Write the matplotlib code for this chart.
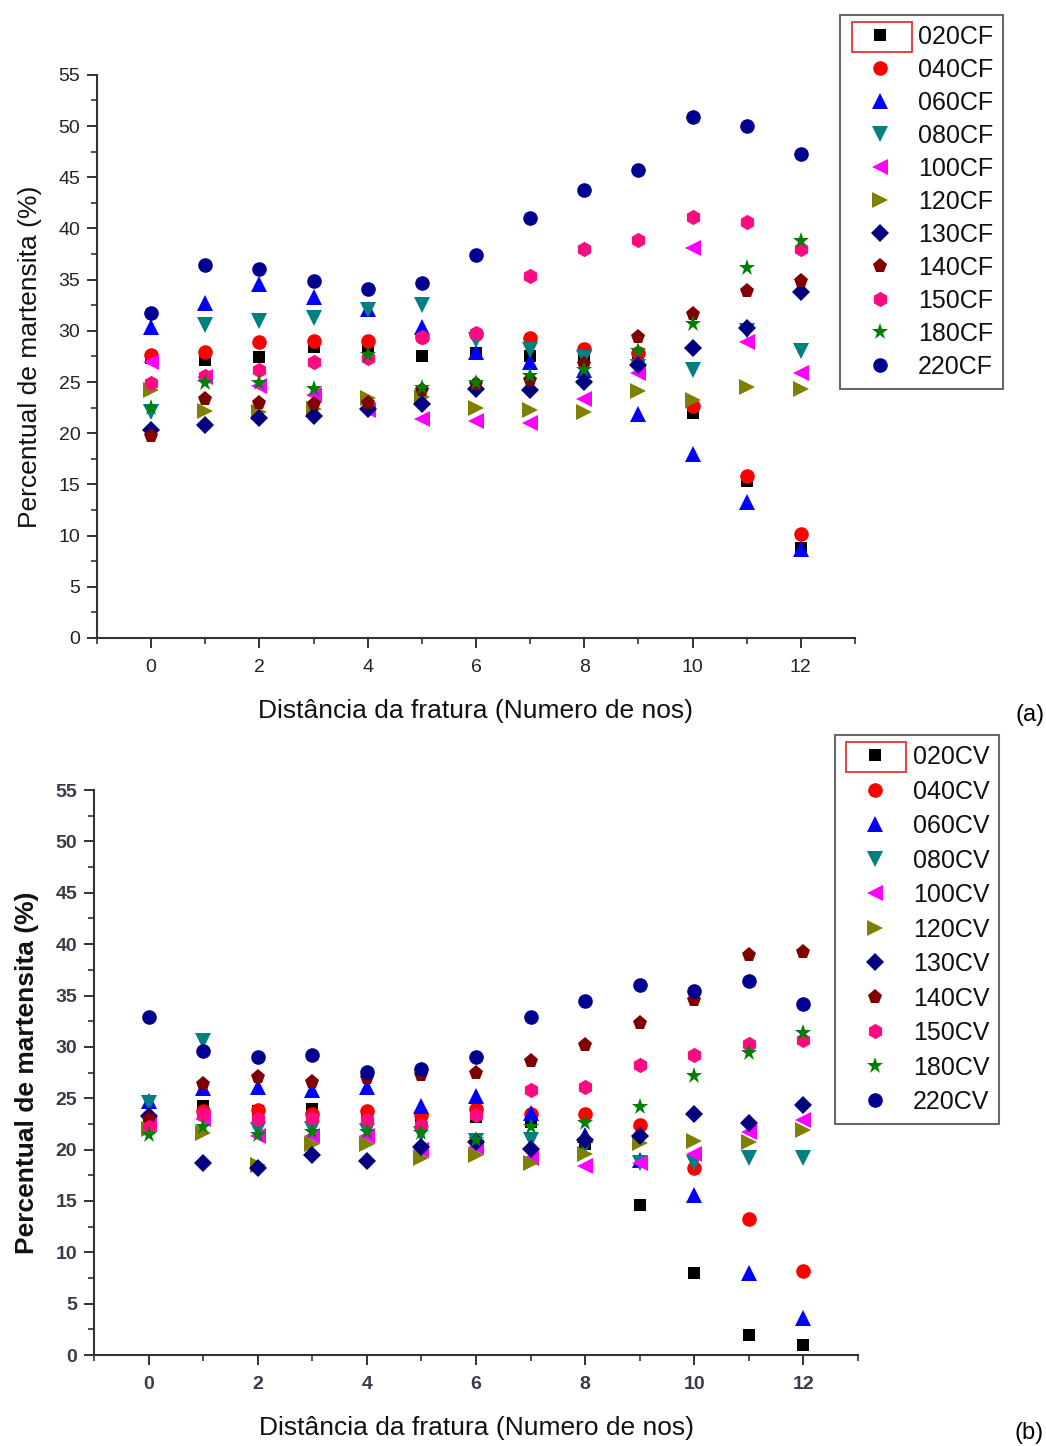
import matplotlib
matplotlib.use("Agg")
import matplotlib.pyplot as plt
from matplotlib.ticker import MultipleLocator
from matplotlib.patches import Rectangle

plt.rcParams["font.family"] = ["Liberation Sans", "DejaVu Sans"]

NODES = list(range(13))
SAMPLES = ["020", "040", "060", "080", "100", "120", "130", "140", "150", "180", "220"]

# (a) CF samples, martensite % per node distance from fracture
cf_020 = [27.3, 27.2, 27.4, 28.4, 28.5, 27.5, 27.8, 27.5, 27.3, 27.5, 22.0, 15.3, 8.8]
cf_040 = [27.6, 27.9, 28.9, 29.0, 29.0, 29.4, 29.7, 29.3, 28.2, 27.8, 22.7, 15.8, 10.2]
cf_060 = [30.4, 32.7, 34.6, 33.3, 32.1, 30.4, 27.9, 27.0, 26.2, 21.9, 18.0, 13.3, 8.7]
cf_080 = [22.1, 30.6, 31.0, 31.3, 32.0, 32.5, 29.1, 28.1, 27.3, 26.5, 26.2, 30.0, 28.0]
cf_100 = [27.0, 25.5, 24.6, 23.7, 22.3, 21.4, 21.2, 21.0, 23.3, 25.9, 38.1, 28.9, 25.9]
cf_120 = [24.2, 22.2, 22.1, 22.4, 23.4, 23.5, 22.5, 22.3, 22.1, 24.1, 23.2, 24.5, 24.3]
cf_130 = [20.3, 20.8, 21.5, 21.7, 22.4, 22.9, 24.3, 24.2, 25.0, 26.7, 28.3, 30.3, 33.8]
cf_140 = [19.7, 23.3, 23.0, 22.9, 23.0, 24.2, 24.8, 25.2, 26.8, 29.4, 31.6, 33.9, 34.9]
cf_150 = [24.9, 25.6, 26.2, 27.0, 27.3, 29.4, 29.8, 35.4, 38.0, 38.9, 41.1, 40.6, 38.0]
cf_180 = [22.5, 24.9, 24.9, 24.3, 27.6, 24.4, 24.9, 25.6, 26.2, 28.0, 30.7, 36.1, 38.8]
cf_220 = [31.7, 36.4, 36.0, 34.9, 34.1, 34.7, 37.4, 41.0, 43.8, 45.7, 50.9, 50.0, 47.3]

# (b) CV samples
cv_020 = [23.0, 24.2, 23.8, 24.0, 23.5, 23.2, 23.2, 22.7, 20.5, 14.6, 8.0, 2.0, 1.0]
cv_040 = [22.5, 23.8, 23.9, 23.5, 23.8, 23.4, 24.0, 23.5, 23.5, 22.4, 18.2, 13.2, 8.2]
cv_060 = [24.7, 26.0, 26.1, 25.8, 26.1, 24.2, 25.2, 23.6, 21.4, 19.0, 15.6, 8.0, 3.6]
cv_080 = [24.5, 30.6, 21.9, 22.0, 21.8, 21.5, 20.8, 20.9, 20.4, 18.7, 18.7, 19.2, 19.2]
cv_100 = [22.5, 23.0, 21.3, 21.3, 21.3, 20.0, 20.3, 19.2, 18.4, 18.7, 19.6, 21.7, 22.9]
cv_120 = [22.0, 21.6, 18.5, 20.5, 20.5, 19.2, 19.5, 18.7, 19.6, 20.6, 20.8, 20.7, 21.9]
cv_130 = [23.3, 18.7, 18.2, 19.5, 18.9, 20.3, 20.7, 20.1, 20.9, 21.3, 23.5, 22.6, 24.3]
cv_140 = [23.0, 26.4, 27.1, 26.6, 27.0, 27.3, 27.5, 28.6, 30.2, 32.3, 34.6, 38.9, 39.2]
cv_150 = [22.2, 23.5, 23.0, 23.1, 22.9, 22.4, 23.4, 25.8, 26.1, 28.2, 29.2, 30.3, 30.7]
cv_180 = [21.4, 22.2, 21.4, 21.7, 21.7, 21.6, 20.9, 22.2, 22.6, 24.1, 27.2, 29.4, 31.4]
cv_220 = [32.9, 29.6, 29.0, 29.2, 27.6, 27.8, 29.0, 32.9, 34.5, 36.0, 35.4, 36.4, 34.2]

CF_SERIES = [cf_020, cf_040, cf_060, cf_080, cf_100, cf_120, cf_130, cf_140, cf_150, cf_180, cf_220]
CV_SERIES = [cv_020, cv_040, cv_060, cv_080, cv_100, cv_120, cv_130, cv_140, cv_150, cv_180, cv_220]

COLORS = ["black", "red", "blue", "#008080", "#ff00ff", "#808000",
          "#000080", "#800000", "#ff0a80", "#008000", "#000090"]
MARKERS = ["s", "o", "^", "v", "<", ">", "D", "p", "h", "*", "o"]
SIZES = [9, 10.5, 11.5, 11.5, 11.5, 11.5, 9.5, 11, 11, 12.5, 10.5]

AXIS_COLOR = "#333333"
LEG_FS = 18
LEG_HL = 2.4
LEG_PAD = 0.32


def draw_panel(fig, ax, series, suffix, legend_anchor, spacing, bold=False):
    weight = "bold" if bold else "normal"
    for vals, name, c, m, ms in zip(series, SAMPLES, COLORS, MARKERS, SIZES):
        ax.plot(NODES, vals, linestyle="none", marker=m, color=c, markersize=ms,
                markeredgewidth=0, label=name + suffix, clip_on=False)

    ax.set_xlim(-1, 13)
    ax.set_ylim(0, 55)
    ax.spines["top"].set_visible(False)
    ax.spines["right"].set_visible(False)
    for s in ["left", "bottom"]:
        ax.spines[s].set_linewidth(1.5)
        ax.spines[s].set_color(AXIS_COLOR)

    ax.xaxis.set_major_locator(MultipleLocator(2))
    ax.xaxis.set_minor_locator(MultipleLocator(1))
    ax.yaxis.set_major_locator(MultipleLocator(5))
    ax.yaxis.set_minor_locator(MultipleLocator(2.5))
    ax.tick_params(which="major", direction="out", length=7, width=1.4,
                   color=AXIS_COLOR, labelsize=14, pad=5)
    ax.tick_params(which="minor", direction="out", length=4, width=1.2, color=AXIS_COLOR)
    ax.tick_params(axis="x", which="major", pad=8)
    for lab in ax.get_xticklabels() + ax.get_yticklabels():
        lab.set_fontweight(weight)
        lab.set_color("#222222" if not bold else "#3a3a4a")

    ax.set_xlabel("Distância da fratura (Numero de nos)", fontsize=19, labelpad=17,
                  color="#111111")
    ax.set_ylabel("Percentual de martensita (%)", fontsize=19, labelpad=12,
                  fontweight=weight, color="#111111")

    leg = ax.legend(loc="upper left", bbox_to_anchor=legend_anchor,
                    bbox_transform=fig.transFigure, fontsize=LEG_FS, frameon=True,
                    fancybox=False, edgecolor="#444444", borderaxespad=0,
                    borderpad=0.4, labelspacing=spacing, handlelength=LEG_HL,
                    handletextpad=LEG_PAD, numpoints=1)
    leg.get_frame().set_linewidth(1.5)
    for t in leg.get_texts():
        t.set_color("#111111")
    return leg


fig = plt.figure(figsize=(10.46, 14.46), dpi=100)
ax_a = fig.add_axes([0.0927, 0.5588, 0.7247, 0.3894])
ax_b = fig.add_axes([0.0899, 0.0629, 0.7304, 0.3907])

leg_a = draw_panel(fig, ax_a, CF_SERIES, "CF", (0.803, 0.9896), 0.36)
leg_b = draw_panel(fig, ax_b, CV_SERIES, "CV", (0.798, 0.4917), 0.42, bold=True)

fig.text(0.971, 1 - 715 / 1446, "(a)", fontsize=17, va="center")
fig.text(0.970, 1 - 1433 / 1446, "(b)", fontsize=17, va="center")

# red selection box around the first legend symbol (as in the original export)
fig.canvas.draw()
inv = fig.transFigure.inverted()
for leg in (leg_a, leg_b):
    fs_px = LEG_FS * fig.dpi / 72
    tb = leg.get_texts()[0].get_window_extent()
    yc = (tb.y0 + tb.y1) / 2
    x1 = tb.x0 - 0.25 * fs_px
    x0 = x1 - LEG_HL * fs_px
    (fx0, fy0), (fx1, fy1) = inv.transform([(x0, yc - 15), (x1, yc + 15)])
    fig.patches.append(Rectangle((fx0, fy0), fx1 - fx0, fy1 - fy0, fill=False,
                                 edgecolor="#e83030", linewidth=1.3,
                                 transform=fig.transFigure, figure=fig))

fig.savefig("out.png", dpi=100)
